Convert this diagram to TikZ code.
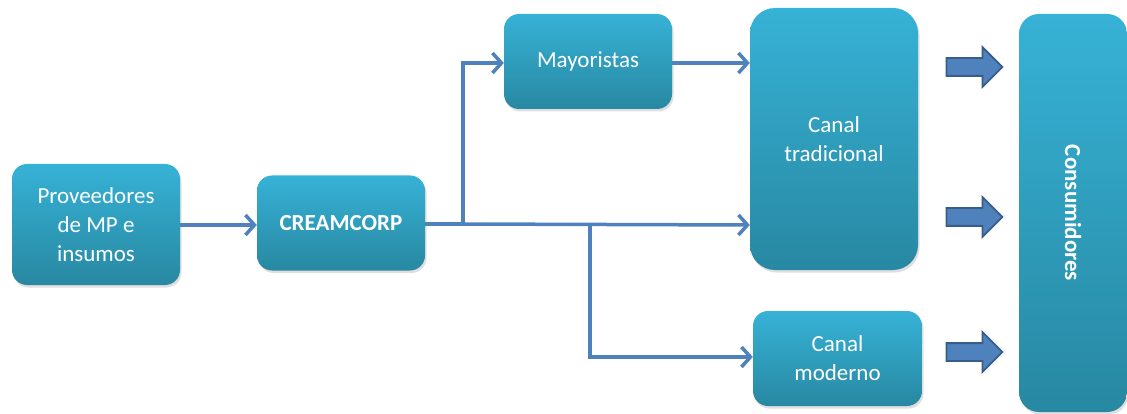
\documentclass[tikz,border=0pt]{standalone}
\usepackage{fontspec}
\setmainfont{Carlito}
\usetikzlibrary{arrows.meta,shapes.arrows,shadows,calc}
\definecolor{boxtop}{RGB}{54,178,214}
\definecolor{boxbot}{RGB}{40,136,162}
\definecolor{flow}{RGB}{79,129,189}
\definecolor{flowdark}{RGB}{56,93,138}

\begin{document}
\begin{tikzpicture}[x=1pt,y=-1pt,
  box/.style={rounded corners=15pt,top color=boxtop,bottom color=boxbot,
    draw=none,text=white,align=center,font=\fontsize{23}{29}\selectfont,
    minimum width=168pt,minimum height=95pt,inner sep=0pt,
    drop shadow={shadow xshift=1.5pt,shadow yshift=-2.5pt,opacity=0.25}},
  flowline/.style={draw=flow,line width=3.5pt},
  flowarrow/.style={flowline,-{Straight Barb[length=9pt,width=20pt,line width=3.5pt]}},
  block/.style={single arrow,draw=flowdark,fill=flow,line width=1.8pt,
    minimum height=56pt,inner xsep=0pt,inner ysep=8pt,
    single arrow head extend=11pt,single arrow tip angle=90}]

\useasboundingbox (0,0) rectangle (1127,414);

% boxes
\node[box,minimum height=121pt] (prov) at (96,224.5) {Proveedores\\de MP e\\insumos};
\node[box,font=\fontsize{23}{29}\selectfont\bfseries] (cream) at (341,223) {CREAMCORP};
\node[box] (mayor) at (588,61.5) {Mayoristas};
\node[box,rounded corners=25pt,minimum height=262pt] (trad) at (834,139) {Canal\\tradicional};
\node[box,minimum width=169pt] (moder) at (837.5,358.5) {Canal\\moderno};
\node[box,rounded corners=20pt,minimum width=108pt,minimum height=398pt,
  label={[rotate=-90,text=white,font=\fontsize{23}{29}\selectfont\bfseries]center:Consumidores}]
  (cons) at (1073,213) {};

% junctions
\coordinate (j1) at (463,224);
\coordinate (j2) at (590,224);

\draw[flowarrow] (prov.east |- 0,225) -- (cream.west |- 0,225);
\draw[flowline] (cream.east |- 0,224) -- (j1);
\draw[flowarrow] (j1) |- (mayor.west |- 0,63);
\draw[flowarrow] (j1) -- (trad.west |- 0,225);
\draw[flowarrow] (j2) |- (moder.west |- 0,357);
\draw[flowarrow] (mayor.east |- 0,63) -- (trad.west |- 0,63);

% block arrows
\foreach \y/\n in {67/a1,217/a2,352/a3}
  \node[block] (\n) at (970,\y) {};

\end{tikzpicture}
\end{document}
